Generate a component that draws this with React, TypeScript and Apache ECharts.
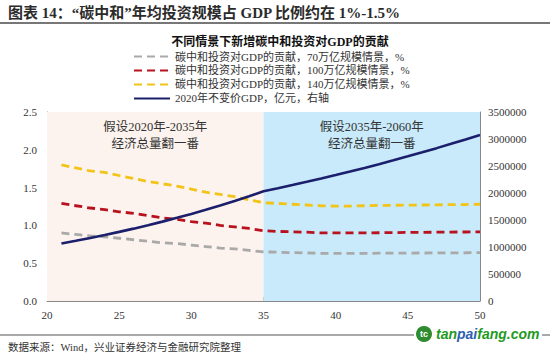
import React, { useEffect, useRef } from "react";
import * as echarts from "echarts";

const years = [21,22,23,24,25,26,27,28,29,30,31,32,33,34,35,36,37,38,39,40,41,42,43,44,45,46,47,48,49,50];
const grey70 = [0.90,0.88,0.86,0.85,0.83,0.81,0.79,0.77,0.76,0.74,0.72,0.70,0.69,0.67,0.65,0.645,0.64,0.635,0.63,0.63,0.63,0.63,0.632,0.633,0.634,0.635,0.636,0.637,0.638,0.64];
const red100 = [1.29,1.26,1.23,1.21,1.18,1.16,1.13,1.10,1.08,1.05,1.03,1.00,0.98,0.96,0.93,0.92,0.915,0.91,0.90,0.90,0.90,0.90,0.903,0.905,0.907,0.908,0.91,0.912,0.913,0.915];
const yellow140 = [1.80,1.76,1.72,1.70,1.66,1.62,1.58,1.55,1.52,1.48,1.44,1.41,1.38,1.34,1.30,1.29,1.28,1.27,1.26,1.255,1.255,1.26,1.264,1.266,1.268,1.27,1.272,1.274,1.276,1.28];
const gdp = [1064000,1114000,1167000,1222000,1280000,1340000,1404000,1470000,1540000,1612000,1689000,1769000,1852000,1940000,2032000,2089000,2147000,2207000,2269000,2333000,2398000,2465000,2534000,2605000,2679000,2754000,2831000,2910000,2992000,3076000];
const rightMin = 0;
const seriesNames = [
  "碳中和投资对GDP的贡献，70万亿规模情景，%",
  "碳中和投资对GDP的贡献，100万亿规模情景，%",
  "碳中和投资对GDP的贡献，140万亿规模情景，%",
  "2020年不变价GDP，亿元，右轴",
];
const periods = [
  { from: 20, to: 35, label: "假设2020年-2035年\n经济总量翻一番" },
  { from: 35, to: 50, label: "假设2035年-2060年\n经济总量翻一番" },
];

const FONT = "'Liberation Serif', 'Times New Roman', 'Noto Sans CJK SC', serif";
const W = 550, H = 358;
const GRID = { left: 47, right: 70, top: 112, bottom: 57 };

export default function App() {
  const ref = useRef<HTMLDivElement>(null);
  useEffect(() => {
    const chart = echarts.init(ref.current!, undefined, { renderer: "svg" });
    const pair = (arr: number[]) => years.map((y, i) => [y, arr[i]]);
    const dash = (name: string, arr: number[], color: string) => ({
      name,
      type: "line",
      data: pair(arr),
      symbol: "none",
      smooth: false,
      lineStyle: { color, width: 2.8, type: [8, 5] },
      itemStyle: { color },
      z: 3,
    });
    chart.setOption({
      animation: false,
      textStyle: { fontFamily: FONT },
      title: {
        text: "不同情景下新增碳中和投资对GDP的贡献",
        left: 275,
        textAlign: "center",
        top: 31,
        textStyle: { fontSize: 12, fontWeight: "bold", color: "#111", fontFamily: FONT },
      },
      legend: {
        orient: "vertical",
        left: 128,
        top: 46,
        itemGap: 3,
        itemWidth: 36,
        itemHeight: 12,
        itemStyle: { opacity: 0, borderWidth: 0 },
        textStyle: { fontSize: 11, color: "#333", fontFamily: FONT },
        data: seriesNames,
      },
      grid: { ...GRID, containLabel: false },
      xAxis: {
        type: "value",
        min: 20,
        max: 50,
        interval: 5,
        axisLine: { show: true, lineStyle: { color: "#888", width: 1 } },
        axisTick: { show: true, inside: true, length: 4, lineStyle: { color: "#888" } },
        axisLabel: { fontSize: 11, color: "#333", fontFamily: FONT, margin: 8, showMaxLabel: true },
        splitLine: { show: false },
      },
      yAxis: [
        {
          type: "value",
          min: 0,
          max: 2.5,
          interval: 0.5,
          position: "left",
          axisLine: { show: true, lineStyle: { color: "#888" } },
          axisTick: { show: true, inside: true, length: 4, lineStyle: { color: "#888" } },
          axisLabel: { fontSize: 11, color: "#333", fontFamily: FONT, formatter: (v: number) => v.toFixed(1), margin: 10, showMinLabel: true },
          splitLine: { show: false },
        },
        {
          type: "value",
          min: rightMin,
          max: 3500000,
          interval: 500000,
          position: "right",
          axisLine: { show: true, lineStyle: { color: "#888" } },
          axisTick: { show: true, inside: true, length: 4, lineStyle: { color: "#888" } },
          axisLabel: {
            fontSize: 11,
            color: "#333",
            fontFamily: FONT,
            margin: 8,
            showMinLabel: true,
            formatter: (v: number) => (v === 0 ? "\u200b0" : String(v)),
          },
          splitLine: { show: false },
        },
      ],
      series: [
        {
          ...dash(seriesNames[0], grey70, "#a9a9a9"),
          markArea: {
            silent: true,
            data: periods.map((p, i) => [
              {
                xAxis: p.from,
                itemStyle: { color: i === 0 ? "#fdf3ee" : "#c8eafa" },
                label: {
                  show: true,
                  position: "insideTop",
                  distance: 6,
                  formatter: p.label,
                  fontSize: 12.5,
                  lineHeight: 17,
                  color: "#333",
                  fontFamily: FONT,
                },
              },
              { xAxis: p.to },
            ]),
          },
          z: 3,
        },
        dash(seriesNames[1], red100, "#b8121f"),
        dash(seriesNames[2], yellow140, "#f2c418"),
        {
          name: seriesNames[3],
          type: "line",
          yAxisIndex: 1,
          data: pair(gdp),
          symbol: "none",
          lineStyle: { color: "#1c1f6b", width: 2.6 },
          itemStyle: { color: "#1c1f6b" },
          z: 4,
        },
      ],
      graphic: [
        {
          type: "text",
          left: 8,
          top: 5,
          style: {
            text: "图表 14：“碳中和”年均投资规模占 GDP 比例约在 1%-1.5%",
            fontSize: 15,
            fontWeight: "bold",
            fill: "#2b2b2b",
            fontFamily: FONT,
          },
        },
        { type: "line", shape: { x1: 0, y1: 23, x2: W, y2: 23 }, style: { stroke: "#777", lineWidth: 2 } },
        { type: "line", shape: { x1: 0, y1: 335, x2: W, y2: 335 }, style: { stroke: "#555", lineWidth: 1 } },
        { type: "rect", shape: { x: 414, y: 324, width: 128, height: 20 }, style: { fill: "#fff" } },
        { type: "circle", shape: { cx: 424, cy: 334, r: 8 }, style: { fill: "#2e8b2e" } },
        {
          type: "text",
          x: 424,
          y: 334,
          style: { text: "tc", fontSize: 9, fontWeight: "bold", fill: "#fff", align: "center", verticalAlign: "middle", fontFamily: "Arial" },
        },
        {
          type: "text",
          x: 436,
          y: 334,
          style: {
            text: "{g|tan}{b|pai}{g|fang.com}",
            verticalAlign: "middle",
            rich: {
              g: { fontSize: 14, fontWeight: "bold", fontStyle: "italic", fill: "#1f9a1f", fontFamily: "'Liberation Sans', Arial" },
              b: { fontSize: 14, fontWeight: "bold", fontStyle: "italic", fill: "#2f5fb0", fontFamily: "'Liberation Sans', Arial" },
            },
          },
        },
        {
          type: "text",
          left: 8,
          top: 342,
          style: { text: "数据来源：Wind，兴业证券经济与金融研究院整理", fontSize: 10.5, fill: "#333", fontFamily: FONT },
        },
      ],
    });
    return () => chart.dispose();
  }, []);
  return <div ref={ref} style={{ width: W, height: H, position: "absolute", left: 0, top: 0 }} />;
}
